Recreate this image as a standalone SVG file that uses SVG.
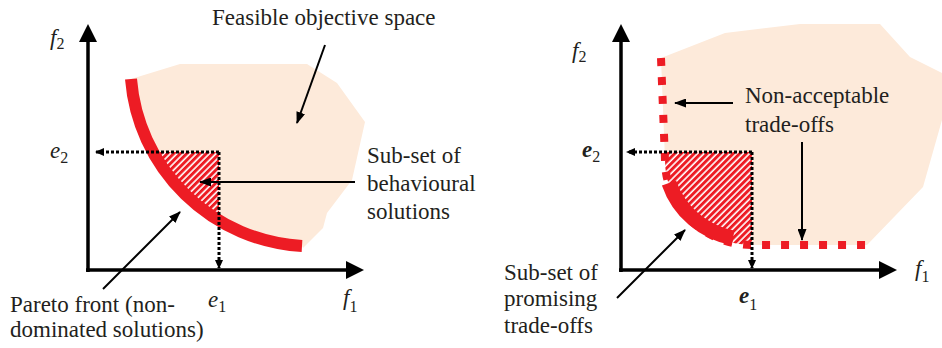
<svg xmlns="http://www.w3.org/2000/svg" width="942" height="348" viewBox="0 0 942 348">
<style>
text{font-family:"Liberation Serif","Times New Roman","DejaVu Serif",serif;fill:#231F20;font-size:23px}
.it{font-style:italic}
.sub{font-size:16px}
.bold{font-weight:bold}
.region{fill:#FDEADA;stroke:none}
.axis{stroke:#000;stroke-width:3.5;fill:none}
.tip{fill:#000}
.dot{stroke:#000;stroke-width:3;stroke-dasharray:3 2;fill:none}
.ptr{stroke:#000;stroke-width:2;fill:none;marker-end:url(#ah)}
.front{stroke:#ED1C24;fill:none}
</style>
<defs>
<marker id="ah" viewBox="0 0 12 9" refX="11" refY="4.5" markerUnits="userSpaceOnUse" markerWidth="12" markerHeight="9" orient="auto">
<path d="M0,0 L12,4.5 L0,9 Z" fill="#000"/>
</marker>
<marker id="sh" viewBox="0 0 9 8" refX="8" refY="4" markerUnits="userSpaceOnUse" markerWidth="9" markerHeight="8" orient="auto">
<path d="M0,0 L9,4 L0,8 Z" fill="#000"/>
</marker>
<pattern id="hatch" patternUnits="userSpaceOnUse" width="4.6" height="4.6" patternTransform="rotate(45)">
<rect width="4.6" height="4.6" fill="#fff"/>
<rect width="3" height="4.6" fill="#ED1C24"/>
</pattern>
</defs>

<g id="left-panel">
<g id="feasible-left">
<path class="region" d="M131,79 L180,64 L307,64 L337,83 L365,122 L352,180 L327,213 L323,228 L303,248 L302,246 A182 182 0 0 1 131,79 Z"/>
</g>
<g id="behavioural-subset">
<path d="M153.3,152 L219,152 L219,220 A182 182 0 0 1 153.3,152 Z" fill="url(#hatch)"/>
</g>
<g id="pareto-front">
<path class="front" stroke-width="12" d="M131,79 A182 182 0 0 0 302,246"/>
</g>
<g id="axes-left">
<line class="axis" x1="88" y1="272" x2="88" y2="40"/>
<polygon class="tip" points="88,24 79,42 97,42"/>
<line class="axis" x1="86" y1="270" x2="348" y2="270"/>
<polygon class="tip" points="364,270 346,261 346,279"/>
<text x="50" y="45" class="it">f<tspan class="sub" font-style="normal" dy="4">2</tspan></text>
<text x="208" y="307" class="it">e<tspan class="sub" font-style="normal" dy="5">1</tspan></text>
<text x="50" y="158" class="it">e<tspan class="sub" font-style="normal" dy="5">2</tspan></text>
<text x="343" y="305" class="it">f<tspan class="sub" font-style="normal" dy="7">1</tspan></text>
</g>
<g id="labels-left">
<text x="212" y="25">Feasible objective space</text>
<text x="367" y="163">Sub-set of</text>
<text x="367" y="191">behavioural</text>
<text x="367" y="219">solutions</text>
<text x="10" y="312">Pareto front (non-</text>
<text x="10" y="337">dominated solutions)</text>
</g>
</g>

<g id="right-panel">
<g id="feasible-right">
<path class="region" d="M661,58 L725,33 L800,24 L880,24 L910,57 L942,73 L942,120 L923,187 L867,245 L752,245 A87 85 0 0 1 665,160 Z"/>
</g>
<g id="promising-subset">
<path d="M664,152 L752,152 L752,245 A87 85 0 0 1 665,160 Z" fill="url(#hatch)"/>
</g>
<g id="non-acceptable-front">
<path class="front" stroke-width="8" stroke-dasharray="8 11" d="M661,58 L665,160 A87 85 0 0 0 752,245 L866,245"/>
</g>
<g id="promising-front">
<path class="front" stroke-width="15" d="M669,183 A85 83 0 0 0 733,238"/>
</g>
<g id="axes-right">
<line class="axis" x1="621" y1="272" x2="621" y2="40"/>
<polygon class="tip" points="621,24 612,42 630,42"/>
<line class="axis" x1="619" y1="270" x2="881" y2="270"/>
<polygon class="tip" points="897,270 879,261 879,279"/>
<text x="572" y="58" class="it">f<tspan class="sub" font-style="normal" dy="4">2</tspan></text>
<text x="582" y="157" class="it bold">e<tspan class="sub" font-style="normal" font-weight="normal" dy="5">2</tspan></text>
<text x="739" y="303" class="it bold">e<tspan class="sub" font-style="normal" font-weight="normal" dy="7">1</tspan></text>
<text x="915" y="276" class="it">f<tspan class="sub" font-style="normal" dy="6">1</tspan></text>
</g>
<g id="labels-right">
<text x="745" y="103" font-size="23.5">Non-acceptable</text>
<text x="745" y="132" font-size="23.5">trade-offs</text>
<text x="504" y="280">Sub-set of</text>
<text x="504" y="306">promising</text>
<text x="504" y="333">trade-offs</text>
</g>
</g>

<g id="connectors">
<path class="dot" d="M219,152 L96,152" marker-end="url(#sh)"/>
<path class="dot" d="M219,152 L219,268" marker-end="url(#sh)"/>
<path class="dot" d="M752,152 L627,152" marker-end="url(#sh)"/>
<path class="dot" d="M752,152 L752,268" marker-end="url(#sh)"/>
<line class="ptr" x1="325" y1="45" x2="297" y2="123"/>
<line class="ptr" x1="355" y1="182" x2="200" y2="182"/>
<line class="ptr" x1="103" y1="289" x2="180" y2="212"/>
<line class="ptr" x1="733" y1="103" x2="675" y2="103"/>
<line class="ptr" x1="802" y1="142" x2="802" y2="240"/>
<line class="ptr" x1="617" y1="298" x2="685" y2="230"/>
</g>
</svg>
